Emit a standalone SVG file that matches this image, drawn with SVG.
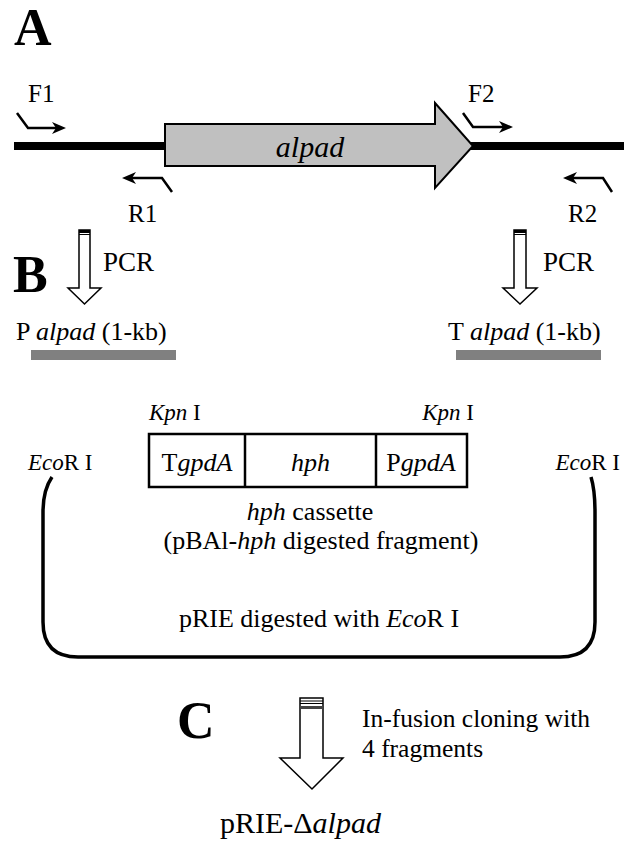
<svg xmlns="http://www.w3.org/2000/svg" width="624" height="841" viewBox="0 0 624 841">
<style>
text{font-family:"Liberation Serif","Times New Roman",serif;fill:#000}
.t{font-size:26px}
.s{font-size:23px}
.big{font-size:52px;font-weight:bold}
.i{font-style:italic}
.pr{fill:none;stroke:#000;stroke-width:2.5}
.hollow{fill:#fff;stroke:#000;stroke-width:1.5}
</style>
<defs>
<path id="ahR" d="M0 0 L-14 -6 L-10 0 L-14 6 Z" fill="#000"/>
</defs>
<rect width="624" height="841" fill="#fff"/>
<text class="big" x="14" y="45">A</text>
<text class="big" x="13" y="292">B</text>
<text class="big" x="177" y="738">C</text>

<g id="dna">
<line x1="14" y1="146" x2="166" y2="146" stroke="#000" stroke-width="8"/>
<line x1="470" y1="146" x2="624" y2="146" stroke="#000" stroke-width="8"/>
</g>
<g id="gene">
<path d="M165 124 L435 124 L435 103 L473 146 L435 188 L435 166 L165 166 Z" fill="#c0c0c0" stroke="#000" stroke-width="2"/>
<text class="t i" x="310" y="157" text-anchor="middle" style="font-size:30px">alpad</text>
</g>
<g id="F1">
<text class="t" x="28" y="102" style="font-size:25px">F1</text>
<path class="pr" d="M17 113 L28 128 L60 128"/>
<use href="#ahR" transform="translate(66 128)"/>
</g>
<g id="R1">
<path class="pr" d="M172 192 L162 178 L128 178"/>
<use href="#ahR" transform="translate(122 178) rotate(180)"/>
<text class="t" x="128" y="222" style="font-size:25px">R1</text>
</g>
<g id="F2">
<text class="t" x="468" y="102" style="font-size:25px">F2</text>
<path class="pr" d="M463 113 L473 127 L507 127"/>
<use href="#ahR" transform="translate(513 127)"/>
</g>
<g id="R2">
<path class="pr" d="M612 192 L603 178 L569 178"/>
<use href="#ahR" transform="translate(563 178) rotate(180)"/>
<text class="t" x="568" y="222" style="font-size:25px">R2</text>
</g>

<g id="connectors">
<g id="pcr-left">
<path class="hollow" d="M79 230 L90 230 L90 288 L101 288 L84.5 304 L68 288 L79 288 Z"/>
<rect x="79" y="230" width="11" height="3" fill="#000"/>
<line x1="79" y1="234.5" x2="90" y2="234.5" stroke="#000" stroke-width="1"/>
</g>
<g id="pcr-right">
<path class="hollow" d="M514 230 L526 230 L526 288 L537 288 L520 304 L503 288 L514 288 Z"/>
<rect x="514" y="230" width="12" height="3" fill="#000"/>
<line x1="514" y1="234.5" x2="526" y2="234.5" stroke="#000" stroke-width="1"/>
</g>
<g id="infusion-arrow">
<path class="hollow" d="M300 698 L323 698 L323 758 L343 758 L312 789 L280 758 L300 758 Z"/>
<line x1="300" y1="701" x2="323" y2="701" stroke="#000" stroke-width="1"/>
<line x1="300" y1="703.5" x2="323" y2="703.5" stroke="#000" stroke-width="1"/>
<rect x="300" y="706" width="23" height="3" fill="#444"/>
</g>
</g>
<text class="t" x="103" y="271" style="font-size:27px">PCR</text>
<text class="t" x="543" y="271" style="font-size:27px">PCR</text>

<g id="P-alpad">
<text class="t" x="16" y="340">P <tspan class="i">alpad</tspan> (1-kb)</text>
<rect x="31" y="350" width="145" height="10" fill="#808080"/>
</g>
<g id="T-alpad">
<text class="t" x="448" y="340">T <tspan class="i">alpad</tspan> (1-kb)</text>
<rect x="456" y="350" width="145" height="10" fill="#808080"/>
</g>

<g id="cassette">
<text class="s" x="149" y="420"><tspan class="i">Kpn</tspan> I</text>
<text class="s" x="474" y="420" text-anchor="end"><tspan class="i">Kpn</tspan> I</text>
<rect x="149" y="434" width="318" height="53" fill="#fff" stroke="#000" stroke-width="2.5"/>
<line x1="245" y1="434" x2="245" y2="487" stroke="#000" stroke-width="2.5"/>
<line x1="376" y1="434" x2="376" y2="487" stroke="#000" stroke-width="2.5"/>
<text class="t" x="197" y="471" text-anchor="middle">T<tspan class="i">gpdA</tspan></text>
<text class="t i" x="310.5" y="471" text-anchor="middle">hph</text>
<text class="t" x="421" y="471" text-anchor="middle">P<tspan class="i">gpdA</tspan></text>
<text class="t" x="310" y="520" text-anchor="middle"><tspan class="i">hph</tspan> cassette</text>
<text class="t" x="321" y="549" text-anchor="middle">(pBAl-<tspan class="i">hph</tspan> digested fragment)</text>
</g>

<g id="vector">
<text class="s" x="28" y="470"><tspan class="i">Eco</tspan>R I</text>
<text class="s" x="620" y="470" text-anchor="end"><tspan class="i">Eco</tspan>R I</text>
<path d="M52 477 Q43 490 43 512 L43 622 Q43 657 78 657 L560 657 Q595 657 595 622 L595 512 Q595 490 591 477" fill="none" stroke="#000" stroke-width="3.5"/>
<text class="t" x="319" y="627" text-anchor="middle">pRIE digested with <tspan class="i">Eco</tspan>R I</text>
</g>

<g id="infusion-label">
<text class="t" x="362" y="727" style="font-size:25.5px">In-fusion cloning with</text>
<text class="t" x="362" y="757" style="font-size:25.5px">4 fragments</text>
</g>
<g id="product">
<text class="t" x="220" y="833" style="font-size:30px">pRIE-Δ<tspan class="i">alpad</tspan></text>
</g>
</svg>
